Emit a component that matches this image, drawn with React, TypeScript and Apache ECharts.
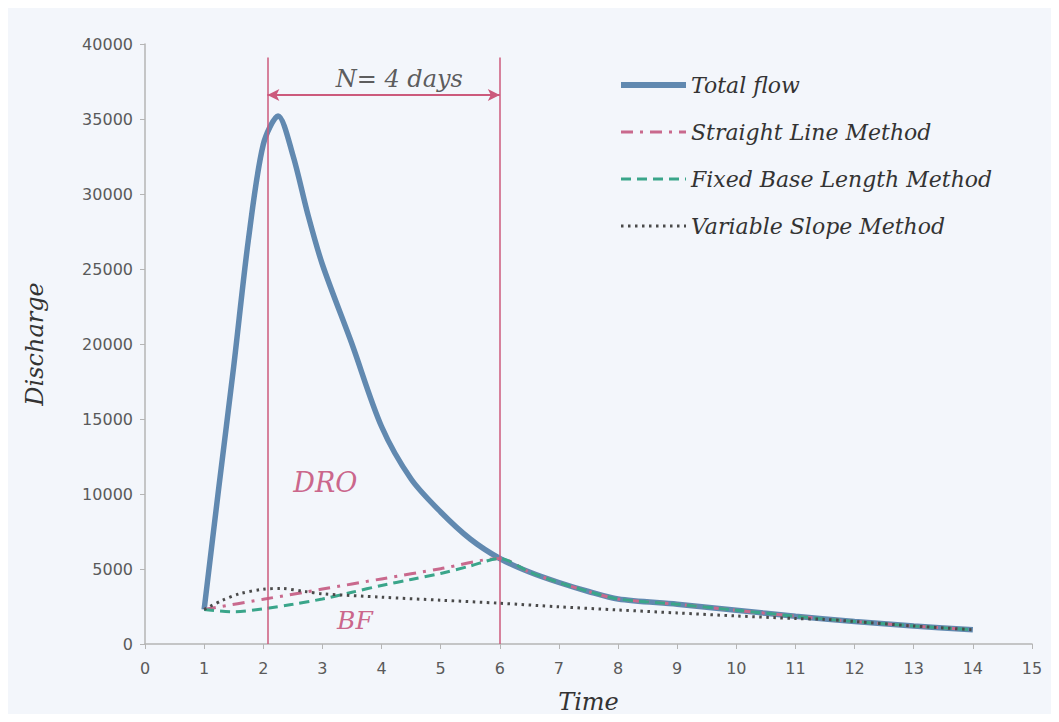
import React, { useEffect, useRef } from "react";
import * as echarts from "echarts";

// Total flow hydrograph
const totalT = [1, 1.25, 1.5, 1.75, 2, 2.25, 2.5, 2.75, 3, 3.5, 4, 4.5, 5, 5.5, 6, 6.5, 7, 7.5, 8, 9, 10, 11, 12, 13, 14];
const totalQ = [2300, 10500, 18500, 27000, 33300, 35200, 32600, 28700, 25300, 20000, 14500, 11000, 8800, 7000, 5700, 4800, 4100, 3500, 3000, 2650, 2250, 1850, 1500, 1200, 950];

// Straight line method
const straightT = [1, 2, 3, 4, 5, 6, 6.5, 7, 7.5, 8, 9, 10, 11, 12, 13, 14];
const straightQ = [2300, 2980, 3660, 4340, 5020, 5700, 4800, 4100, 3500, 3000, 2650, 2250, 1850, 1500, 1200, 950];

// Fixed base length method
const fixedT = [1, 1.5, 2, 2.5, 3, 3.5, 4, 4.5, 5, 5.5, 6, 6.5, 7, 7.5, 8, 9, 10, 11, 12, 13, 14];
const fixedQ = [2300, 2150, 2350, 2650, 3000, 3450, 3900, 4300, 4700, 5200, 5700, 4800, 4100, 3500, 3000, 2650, 2250, 1850, 1500, 1200, 950];

// Variable slope method
const variableT = [1, 1.3, 1.6, 2, 2.3, 2.7, 3, 4, 5, 6, 7, 8, 9, 10, 11, 11.5, 12, 13, 14];
const variableQ = [2300, 2900, 3350, 3650, 3700, 3500, 3350, 3120, 2920, 2720, 2480, 2270, 2070, 1870, 1700, 1640, 1500, 1200, 950];

const xTicks = [0, 15, 1];
const yTicks = [0, 40000, 5000];

const seriesNames = ["Total flow", "Straight Line Method", "Fixed Base Length Method", "Variable Slope Method"];
const legendWidths = [6, 3, 3, 3];

// annotation anchors (data space)
const lineT = [2.07, 6];
const lineTop = 39100;
const arrowQ = 36600;
const labelN = { t: 4.3, q: 37700, text: "N= 4 days" };
const labelDRO = { t: 3.05, q: 10800, text: "DRO" };
const labelBF = { t: 3.55, q: 1600, text: "BF" };

const zip = (a: number[], b: number[]) => a.map((v, i) => [v, b[i]]);

const RED = "#cc5a7c";
const serif = "DejaVu Serif";

export default function App() {
  const ref = useRef<HTMLDivElement>(null);
  useEffect(() => {
    if (!ref.current) return;
    const chart = echarts.init(ref.current, undefined, { renderer: "svg" });
    chart.setOption({
      animation: false,
      backgroundColor: "#f3f6fb",
      grid: { left: 145, right: 27, top: 44, bottom: 78 },
      legend: {
        orient: "vertical",
        left: 613,
        top: 69,
        itemWidth: 65,
        itemHeight: 14,
        itemGap: 25,
        data: seriesNames.map((n, i) => ({ name: n, lineStyle: { width: legendWidths[i] } })),
        itemStyle: { opacity: 0 },
        textStyle: { fontFamily: serif, fontStyle: "italic", fontSize: 22, color: "#333" },
      },
      xAxis: {
        type: "value",
        min: xTicks[0],
        max: xTicks[1],
        interval: xTicks[2],
        name: "Time",
        nameLocation: "middle",
        nameGap: 46,
        nameTextStyle: { fontFamily: serif, fontStyle: "italic", fontSize: 24, color: "#333" },
        splitLine: { show: false },
        axisLine: { lineStyle: { color: "#b5b5b5", width: 1.5 } },
        axisTick: { show: true, length: 5, lineStyle: { color: "#b5b5b5" } },
        axisLabel: { margin: 16, fontFamily: "DejaVu Sans", fontSize: 16, color: "#5a5a5a" },
      },
      yAxis: {
        type: "value",
        min: yTicks[0],
        max: yTicks[1],
        interval: yTicks[2],
        name: "Discharge",
        nameLocation: "middle",
        nameGap: 98,
        nameTextStyle: { fontFamily: serif, fontStyle: "italic", fontSize: 24, color: "#333" },
        splitLine: { show: false },
        axisLine: { show: true, lineStyle: { color: "#b5b5b5", width: 1.5 } },
        axisTick: { show: true, length: 5, lineStyle: { color: "#b5b5b5" } },
        axisLabel: {
          margin: 12,
          fontFamily: "DejaVu Sans",
          fontSize: 16,
          color: "#5a5a5a",
          formatter: (v: number) => String(v),
        },
      },
      series: [
        {
          name: seriesNames[0],
          type: "line",
          smooth: 0.3,
          symbol: "none",
          data: zip(totalT, totalQ),
          lineStyle: { color: "#6189b0", width: 5.5 },
          itemStyle: { color: "#6189b0" },
          z: 2,
        },
        {
          name: seriesNames[1],
          type: "line",
          smooth: 0.3,
          symbol: "none",
          data: zip(straightT, straightQ),
          lineStyle: { color: "#c9698d", width: 3, type: [12, 7, 3, 7] },
          itemStyle: { color: "#c9698d" },
          z: 3,
        },
        {
          name: seriesNames[2],
          type: "line",
          smooth: 0.3,
          symbol: "none",
          data: zip(fixedT, fixedQ),
          lineStyle: { color: "#3aa58a", width: 3, type: [10, 6] },
          itemStyle: { color: "#3aa58a" },
          z: 4,
        },
        {
          name: seriesNames[3],
          type: "line",
          smooth: 0.3,
          symbol: "none",
          data: zip(variableT, variableQ),
          lineStyle: { color: "#4a4a4a", width: 3, type: [2.5, 4.5] },
          itemStyle: { color: "#4a4a4a" },
          z: 5,
        },
        {
          name: "vlines",
          type: "line",
          data: [],
          markLine: {
            silent: true,
            symbol: ["none", "none"],
            label: { show: false },
            lineStyle: { color: RED, width: 1.5, type: "solid" },
            data: lineT.map((t) => [{ coord: [t, 0] }, { coord: [t, lineTop] }]),
          },
          z: 1,
        },
        {
          name: "arrow",
          type: "line",
          data: [],
          markLine: {
            silent: true,
            symbol: ["arrow", "arrow"],
            symbolSize: [9, 12],
            label: { show: false },
            lineStyle: { color: RED, width: 1.8, type: "solid" },
            data: [[{ coord: [lineT[0], arrowQ] }, { coord: [lineT[1], arrowQ] }]],
          },
          z: 1,
        },
        {
          name: "labels",
          type: "scatter",
          symbolSize: 1,
          itemStyle: { color: "rgba(0,0,0,0)" },
          silent: true,
          z: 6,
          data: [
            {
              value: [labelN.t, labelN.q],
              label: { show: true, position: "inside", formatter: labelN.text, fontFamily: serif, fontStyle: "italic", fontSize: 24, color: "#333" },
            },
            {
              value: [labelDRO.t, labelDRO.q],
              label: { show: true, position: "inside", formatter: labelDRO.text, fontFamily: serif, fontStyle: "italic", fontSize: 27, color: "#c0406e" },
            },
            {
              value: [labelBF.t, labelBF.q],
              label: { show: true, position: "inside", formatter: labelBF.text, fontFamily: serif, fontStyle: "italic", fontSize: 25, color: "#c0406e" },
            },
          ],
        },
      ],
    });
    return () => chart.dispose();
  }, []);
  return <div ref={ref} style={{ width: 1059, height: 722, margin: -8 }} />;
}
